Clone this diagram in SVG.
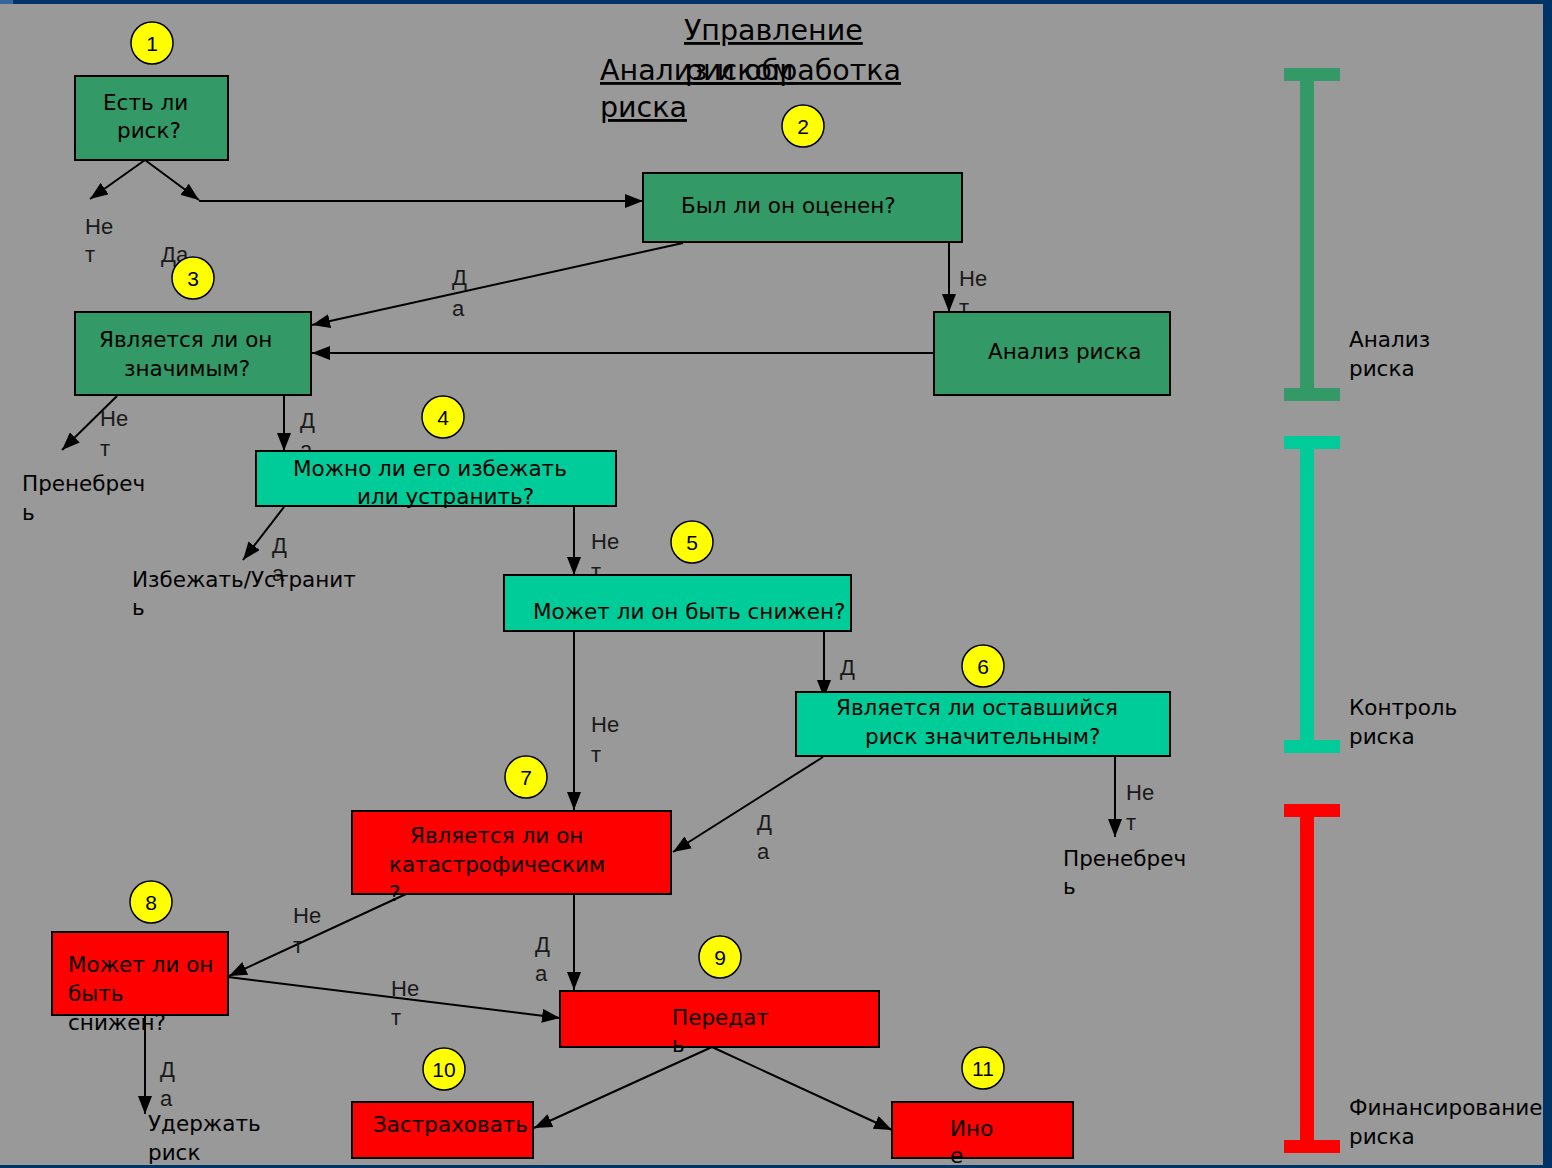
<svg xmlns="http://www.w3.org/2000/svg" width="1552" height="1168" viewBox="0 0 1552 1168">
<style>
.bg{fill:#999999}
.nv{fill:#003366}
.box{stroke:#000;stroke-width:2}
.g{fill:#339966}
.t{fill:#00CC99}
.r{fill:#FF0000}
.num{fill:#FFFF00;stroke:#000;stroke-width:1.5}
.numt{font-family:"Liberation Sans",Arial,sans-serif;font-size:21px;fill:#000;text-anchor:middle}
.ct{font-family:"DejaVu Sans",sans-serif;font-size:21.5px;fill:#000}
.lb{font-family:"Liberation Sans",Arial,sans-serif;font-size:22px;fill:#1a1a1a}
.ttl{font-family:"DejaVu Sans",sans-serif;font-size:28.5px;fill:#000;text-decoration:underline}
.con{stroke:#000;stroke-width:2;fill:none;marker-end:url(#ah)}
</style>
<defs>
<marker id="ah" markerUnits="userSpaceOnUse" markerWidth="18" markerHeight="14" refX="18" refY="7" orient="auto">
<path d="M0,0 L18,7 L0,14 z" fill="#000"/>
</marker>
</defs>
<rect class="bg" x="0" y="0" width="1552" height="1168"/>
<rect class="nv" x="0" y="0" width="1552" height="4"/>
<rect fill="#336699" x="0" y="0" width="13" height="4"/>
<rect class="nv" x="1543" y="0" width="9" height="1168"/>
<rect class="nv" x="0" y="1165" width="1552" height="3"/>

<g id="title">
<text class="ttl" x="684" y="40">Управление</text>
<text class="ttl" x="600" y="80">Анализ и обработка</text>
<text class="ttl" x="685" y="80">риском</text>
<text class="ttl" x="600" y="117">риска</text>
</g>

<g id="connectors">
<path class="con" d="M145,160 L90,199"/>
<path class="con" d="M145,160 L199,200"/>
<path class="con" d="M199,201 L643,201"/>
<path class="con" d="M683,243 L312,325"/>
<path class="con" d="M949,243 L949,312"/>
<path class="con" d="M934,353 L312,353"/>
<path class="con" d="M117,396 L62,450"/>
<path class="con" d="M284,396 L284,451"/>
<path class="con" d="M284,507 L243,560"/>
<path class="con" d="M574,507 L574,575"/>
<path class="con" d="M574,631 L574,810"/>
<path class="con" d="M824,631 L824,698"/>
<path class="con" d="M823,757 L673,852"/>
<path class="con" d="M1115,757 L1115,837"/>
<path class="con" d="M406,894 L229,976"/>
<path class="con" d="M574,895 L574,990"/>
<path class="con" d="M228,977 L560,1018"/>
<path class="con" d="M145,1015 L145,1114"/>
<path class="con" d="M712,1047 L534,1128"/>
<path class="con" d="M712,1047 L892,1130"/>
</g>

<g id="labels">
<text class="lb" x="85" y="234">Не</text><text class="lb" x="85" y="262">т</text>
<text class="lb" x="161" y="262">Да</text>
<text class="lb" x="452" y="285">Д</text><text class="lb" x="452" y="316">а</text>
<text class="lb" x="959" y="286">Не</text><text class="lb" x="959" y="315">т</text>
<text class="lb" x="100" y="426">Не</text><text class="lb" x="100" y="456">т</text>
<text class="lb" x="300" y="428">Д</text><text class="lb" x="300" y="457">а</text>
<text class="lb" x="272" y="553">Д</text><text class="lb" x="272" y="581">а</text>
<text class="lb" x="591" y="549">Не</text><text class="lb" x="591" y="579">т</text>
<text class="lb" x="591" y="732">Не</text><text class="lb" x="591" y="762">т</text>
<text class="lb" x="840" y="675">Д</text><text class="lb" x="840" y="703">а</text>
<text class="lb" x="757" y="830">Д</text><text class="lb" x="757" y="859">а</text>
<text class="lb" x="1126" y="800">Не</text><text class="lb" x="1126" y="830">т</text>
<text class="lb" x="293" y="923">Не</text><text class="lb" x="293" y="953">т</text>
<text class="lb" x="535" y="952">Д</text><text class="lb" x="535" y="981">а</text>
<text class="lb" x="391" y="996">Не</text><text class="lb" x="391" y="1025">т</text>
<text class="lb" x="160" y="1077">Д</text><text class="lb" x="160" y="1106">а</text>
<text class="ct" x="22" y="491">Пренебреч</text><text class="ct" x="22" y="520">ь</text>
<text class="ct" x="132" y="587">Избежать/Устранит</text><text class="ct" x="132" y="615">ь</text>
<text class="ct" x="1063" y="866">Пренебреч</text><text class="ct" x="1063" y="894">ь</text>
<text class="ct" x="148" y="1131">Удержать</text><text class="ct" x="148" y="1160">риск</text>
</g>

<g id="n1">
<circle class="num" cx="152" cy="43" r="21"/><text class="numt" x="152" y="51">1</text>
<rect class="box g" x="75" y="76" width="153" height="84"/>
<text class="ct" x="103" y="110">Есть ли</text>
<text class="ct" x="117" y="138">риск?</text>
</g>
<g id="n2">
<circle class="num" cx="803" cy="126" r="21"/><text class="numt" x="803" y="134">2</text>
<rect class="box g" x="643" y="173" width="319" height="69"/>
<text class="ct" x="681" y="213">Был ли он оценен?</text>
</g>
<g id="n2a">
<rect class="box g" x="934" y="312" width="236" height="83"/>
<text class="ct" x="988" y="359">Анализ риска</text>
</g>
<g id="n3">
<circle class="num" cx="193" cy="278" r="21"/><text class="numt" x="193" y="286">3</text>
<rect class="box g" x="75" y="312" width="236" height="83"/>
<text class="ct" x="99" y="347">Является ли он</text>
<text class="ct" x="124" y="376">значимым?</text>
</g>
<g id="n4">
<circle class="num" cx="443" cy="417" r="21"/><text class="numt" x="443" y="425">4</text>
<rect class="box t" x="256" y="451" width="360" height="55"/>
<text class="ct" x="293" y="476">Можно ли его избежать</text>
<text class="ct" x="357" y="504">или устранить?</text>
</g>
<g id="n5">
<circle class="num" cx="692" cy="542" r="21"/><text class="numt" x="692" y="550">5</text>
<rect class="box t" x="504" y="575" width="347" height="56"/>
<text class="ct" x="533" y="619">Может ли он быть снижен?</text>
</g>
<g id="n6">
<circle class="num" cx="983" cy="666" r="21"/><text class="numt" x="983" y="674">6</text>
<rect class="box t" x="796" y="692" width="374" height="64"/>
<text class="ct" x="836" y="715">Является ли оставшийся</text>
<text class="ct" x="865" y="744">риск значительным?</text>
</g>
<g id="n7">
<circle class="num" cx="526" cy="777" r="21"/><text class="numt" x="526" y="785">7</text>
<rect class="box r" x="352" y="811" width="319" height="83"/>
<text class="ct" x="410" y="843">Является ли он</text>
<text class="ct" x="389" y="872">катастрофическим</text>
<text class="ct" x="389" y="901">?</text>
</g>
<g id="n8">
<circle class="num" cx="151" cy="902" r="21"/><text class="numt" x="151" y="910">8</text>
<rect class="box r" x="52" y="932" width="176" height="83"/>
<text class="ct" x="68" y="972">Может ли он</text>
<text class="ct" x="68" y="1001">быть</text>
<text class="ct" x="68" y="1030">снижен?</text>
</g>
<g id="n9">
<circle class="num" cx="720" cy="957" r="21"/><text class="numt" x="720" y="965">9</text>
<rect class="box r" x="560" y="991" width="319" height="56"/>
<text class="ct" x="672" y="1025">Передат</text>
<text class="ct" x="672" y="1052">ь</text>
</g>
<g id="n10">
<circle class="num" cx="444" cy="1069" r="21"/><text class="numt" x="444" y="1077">10</text>
<rect class="box r" x="352" y="1102" width="181" height="56"/>
<text class="ct" x="373" y="1132">Застраховать</text>
</g>
<g id="n11">
<circle class="num" cx="983" cy="1068" r="21"/><text class="numt" x="983" y="1076">11</text>
<rect class="box r" x="892" y="1102" width="181" height="56"/>
<text class="ct" x="950" y="1136">Ино</text>
<text class="ct" x="950" y="1163">е</text>
</g>

<g id="bars">
<rect class="g" x="1284" y="68" width="56" height="13"/>
<rect class="g" x="1300" y="81" width="14" height="307"/>
<rect class="g" x="1284" y="388" width="56" height="13"/>
<text class="ct" x="1349" y="347">Анализ</text><text class="ct" x="1349" y="376">риска</text>
<rect class="t" x="1284" y="436" width="56" height="13"/>
<rect class="t" x="1300" y="449" width="14" height="291"/>
<rect class="t" x="1284" y="740" width="56" height="13"/>
<text class="ct" x="1349" y="715">Контроль</text><text class="ct" x="1349" y="744">риска</text>
<rect class="r" x="1284" y="804" width="56" height="13"/>
<rect class="r" x="1300" y="817" width="14" height="323"/>
<rect class="r" x="1284" y="1140" width="56" height="13"/>
<text class="ct" x="1349" y="1115">Финансирование</text><text class="ct" x="1349" y="1144">риска</text>
</g>
</svg>
